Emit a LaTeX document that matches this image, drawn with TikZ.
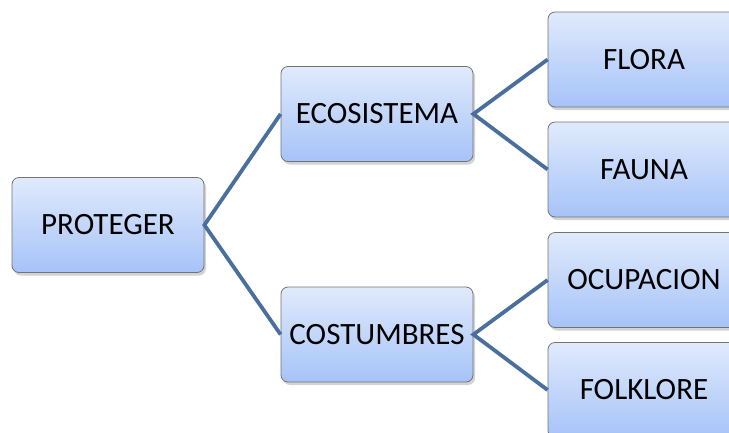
\documentclass[tikz,border=0pt]{standalone}
\usepackage{fontspec}
\setmainfont{Carlito}
\usetikzlibrary{positioning,shadows}
\definecolor{boxtop}{HTML}{E0EAFC}
\definecolor{boxbottom}{HTML}{A6C3F8}
\definecolor{linkblue}{HTML}{4A6F9E}
\begin{document}
\begin{tikzpicture}[x=1pt, y=-1pt,
    box/.style={rectangle, rounded corners=7pt, draw=black!55, line width=0.8pt,
        top color=boxtop, bottom color=boxbottom, minimum width=192pt, minimum height=95pt,
        font=\fontsize{31}{36}\selectfont, drop shadow={opacity=0.35, shadow xshift=2pt, shadow yshift=-3pt}},
    link/.style={draw=linkblue, line width=3.8pt}]
    \useasboundingbox (0,0) rectangle (729,432);
    \clip (0,0) rectangle (729,432);
    \node[box] (proteger) at (108,225) {PROTEGER};
    \node[box] (ecosistema) at (377,114) {ECOSISTEMA};
    \node[box] (costumbres) at (377,334.5) {COSTUMBRES};
    \node[box] (flora) at (644,59.5) {FLORA};
    \node[box] (fauna) at (644,169.5) {FAUNA};
    \node[box] (ocupacion) at (644,280) {OCUPACION};
    \node[box] (folklore) at (644,390) {FOLKLORE};
    \draw[link] (ecosistema.west) -- (proteger.east) -- (costumbres.west);
    \draw[link] (flora.west) -- (ecosistema.east) -- (fauna.west);
    \draw[link] (ocupacion.west) -- (costumbres.east) -- (folklore.west);
\end{tikzpicture}
\end{document}
